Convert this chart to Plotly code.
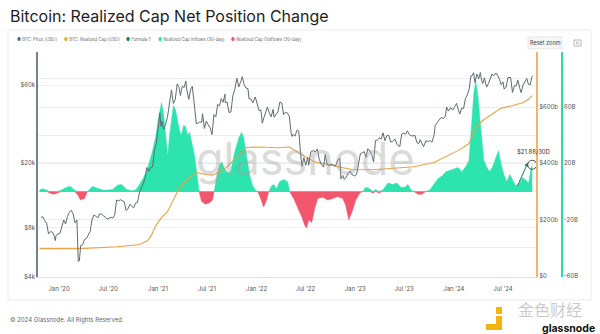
import plotly.graph_objects as go

# ---------------- DATA ----------------
price_dates = ["2019-10-26","2019-11-02","2019-11-09","2019-11-16","2019-11-23","2019-11-30","2019-12-07","2019-12-14","2019-12-18","2019-12-21","2019-12-28",
"2020-01-04","2020-01-11","2020-01-18","2020-01-25","2020-02-01","2020-02-08","2020-02-15","2020-02-22","2020-02-29","2020-03-07","2020-03-12","2020-03-16","2020-03-21","2020-03-28",
"2020-04-04","2020-04-11","2020-04-18","2020-04-25","2020-05-02","2020-05-09","2020-05-16","2020-05-23","2020-05-30","2020-06-06","2020-06-13","2020-06-20","2020-06-27",
"2020-07-04","2020-07-11","2020-07-18","2020-07-25","2020-08-01","2020-08-08","2020-08-15","2020-08-22","2020-08-29","2020-09-05","2020-09-12","2020-09-19","2020-09-26",
"2020-10-03","2020-10-10","2020-10-17","2020-10-24","2020-10-31","2020-11-07","2020-11-14","2020-11-21","2020-11-28","2020-12-05","2020-12-12","2020-12-19","2020-12-26",
"2021-01-02","2021-01-08","2021-01-12","2021-01-16","2021-01-22","2021-01-29","2021-02-05","2021-02-12","2021-02-20","2021-02-27","2021-03-06","2021-03-13","2021-03-20","2021-03-25",
"2021-04-01","2021-04-08","2021-04-14","2021-04-18","2021-04-25","2021-05-02","2021-05-08","2021-05-13","2021-05-19","2021-05-23","2021-05-29","2021-06-05","2021-06-12","2021-06-15",
"2021-06-22","2021-06-29","2021-07-06","2021-07-13","2021-07-20","2021-07-27","2021-08-03","2021-08-10","2021-08-17","2021-08-23","2021-08-30","2021-09-06","2021-09-07","2021-09-14",
"2021-09-21","2021-09-28","2021-10-05","2021-10-12","2021-10-20","2021-10-27","2021-11-03","2021-11-09","2021-11-16","2021-11-23","2021-11-30","2021-12-04","2021-12-11","2021-12-18",
"2021-12-27","2022-01-03","2022-01-10","2022-01-17","2022-01-22","2022-01-29","2022-02-05","2022-02-10","2022-02-17","2022-02-24","2022-03-03","2022-03-07","2022-03-14","2022-03-21",
"2022-03-28","2022-04-04","2022-04-11","2022-04-18","2022-04-25","2022-05-02","2022-05-09","2022-05-12","2022-05-16","2022-05-23","2022-05-31","2022-06-06","2022-06-13","2022-06-18",
"2022-06-25","2022-07-02","2022-07-09","2022-07-13","2022-07-20","2022-07-30","2022-08-06","2022-08-14","2022-08-20","2022-08-28","2022-09-06","2022-09-12","2022-09-19","2022-09-26",
"2022-10-03","2022-10-13","2022-10-20","2022-10-29","2022-11-05","2022-11-09","2022-11-16","2022-11-21","2022-11-28","2022-12-05","2022-12-13","2022-12-20","2022-12-30",
"2023-01-06","2023-01-13","2023-01-20","2023-01-27","2023-02-03","2023-02-10","2023-02-16","2023-02-23","2023-03-03","2023-03-10","2023-03-17","2023-03-24","2023-03-31",
"2023-04-07","2023-04-14","2023-04-21","2023-04-28","2023-05-05","2023-05-12","2023-05-19","2023-05-28","2023-06-05","2023-06-15","2023-06-22","2023-06-29","2023-07-06",
"2023-07-13","2023-07-20","2023-07-27","2023-08-03","2023-08-10","2023-08-17","2023-08-24","2023-08-29","2023-09-07","2023-09-11","2023-09-19","2023-09-28","2023-10-05",
"2023-10-12","2023-10-20","2023-10-24","2023-11-01","2023-11-09","2023-11-15","2023-11-23","2023-12-01","2023-12-05","2023-12-12","2023-12-20","2023-12-28",
"2024-01-04","2024-01-11","2024-01-16","2024-01-23","2024-01-30","2024-02-06","2024-02-13","2024-02-20","2024-02-27","2024-03-04","2024-03-08","2024-03-14","2024-03-19",
"2024-03-26","2024-04-02","2024-04-08","2024-04-13","2024-04-17","2024-04-23","2024-04-30","2024-05-01","2024-05-08","2024-05-15","2024-05-21","2024-05-28","2024-06-05",
"2024-06-12","2024-06-18","2024-06-24","2024-07-01","2024-07-05","2024-07-12","2024-07-19","2024-07-29","2024-08-05","2024-08-12","2024-08-19","2024-08-25","2024-09-01",
"2024-09-06","2024-09-13","2024-09-20","2024-09-27","2024-10-03","2024-10-10","2024-10-15","2024-10-19"]
price_usd = [9250,9300,8800,8500,7300,7550,7500,7100,6650,7150,7300,
7350,8050,8900,8400,9350,9900,10200,9700,8550,8900,4950,5000,6200,6250,
6750,6850,7250,7550,8900,9550,9400,9150,9700,9650,9450,9300,9000,
9100,9250,9150,9600,11800,11650,11850,11700,11500,10200,10400,11100,10750,
10550,11300,11350,13050,13800,14800,16000,18700,17700,18700,18800,23800,26500,
32000,40500,33500,36000,32000,34300,38000,47000,56000,46200,48900,61000,58000,51700,
59000,58000,63500,56000,49000,56600,58800,49800,37000,34700,35000,35600,35500,40000,
32500,36000,34200,32700,29800,39500,38200,45600,44700,49500,47000,52700,46800,47100,
40700,41000,51500,56000,66000,58400,62900,67500,60300,57500,57000,49300,49300,46700,
50700,46400,41800,42200,35000,38200,41500,44000,40500,38300,42500,38000,39700,41000,
47100,46600,39500,40800,40400,38500,30100,29000,29900,29100,31800,31300,22500,19000,
21500,19300,21600,19300,23200,23800,23200,24300,21200,19600,18800,22400,19500,19200,
19600,19400,19100,20800,21300,15900,16700,15800,16200,17100,17800,16900,16600,
16900,19900,22700,23000,23400,21600,24300,23900,22400,20200,27400,27500,28500,
27900,30500,27300,29300,29500,26800,26900,28000,25800,25100,30000,30400,29900,
31400,29800,29300,29200,29400,26600,26200,27700,26200,25100,27200,27000,27400,
26700,29700,33900,35400,36700,37900,37300,38700,44000,41500,43600,42100,
44200,46300,43100,39800,43300,43100,49700,52200,57000,68300,68300,71400,62000,
70000,65500,71600,63800,61200,66400,60600,58300,61200,66200,70100,68400,71100,
68200,65100,60300,62700,56700,57900,66700,66800,54000,59300,59400,64200,57300,
53900,60000,63200,65800,60700,60300,67000,68400]

rcap_dates = ["2019-10-21","2020-03-20","2020-08-04","2020-10-25","2020-11-23","2020-12-08","2020-12-23","2021-01-14","2021-02-06","2021-02-27",
"2021-03-22","2021-04-21","2021-05-24","2021-06-26","2021-07-22","2021-09-05","2021-10-27","2021-11-25","2022-01-16","2022-03-16","2022-05-03",
"2022-06-17","2022-08-04","2022-10-10","2022-12-19","2023-03-07","2023-05-20","2023-08-06","2023-10-19","2023-12-02","2024-01-16","2024-02-26",
"2024-03-22","2024-04-14","2024-05-24","2024-06-23","2024-08-06","2024-09-12","2024-10-04","2024-10-17"]
rcap_billion = [97,97,104,112,125,145,178,207,230,272,
315,345,367,360,358,380,430,456,458,455,458,
430,405,392,378,377,382,388,403,425,445,470,
525,550,575,595,605,615,628,640]

net_dates = ["2019-10-21","2019-11-01","2019-11-16","2019-11-27","2019-12-12","2019-12-26","2020-01-10","2020-01-29","2020-02-12","2020-02-27",
"2020-03-09","2020-03-20","2020-04-04","2020-04-15","2020-05-04","2020-05-22","2020-06-10","2020-06-28","2020-07-17","2020-08-04",
"2020-08-19","2020-09-07","2020-09-25","2020-10-10","2020-10-25","2020-11-09","2020-11-23","2020-12-08","2020-12-23","2021-01-03",
"2021-01-14","2021-01-22","2021-01-31","2021-02-06","2021-02-13","2021-02-22","2021-02-27","2021-03-07","2021-03-14","2021-03-22",
"2021-03-29","2021-04-06","2021-04-13","2021-04-21","2021-04-28","2021-05-05","2021-05-16","2021-05-24","2021-06-02","2021-06-11",
"2021-06-26","2021-07-11","2021-07-22","2021-07-28","2021-08-06","2021-08-17","2021-08-25","2021-09-05","2021-09-16","2021-09-27",
"2021-10-12","2021-10-27","2021-11-07","2021-11-14","2021-11-25","2021-12-06","2021-12-17","2021-12-28","2022-01-05","2022-01-16",
"2022-01-27","2022-02-07","2022-02-15","2022-02-26","2022-03-05","2022-03-16","2022-03-27","2022-04-11","2022-04-26","2022-05-03",
"2022-05-18","2022-06-02","2022-06-17","2022-06-28","2022-07-05","2022-07-13","2022-07-24","2022-08-04","2022-08-15","2022-09-03",
"2022-09-21","2022-10-10","2022-10-28","2022-11-16","2022-11-27","2022-12-08","2022-12-19","2023-01-03","2023-01-18","2023-01-29",
"2023-02-09","2023-02-24","2023-03-07","2023-03-18","2023-03-29","2023-04-13","2023-05-02","2023-05-20","2023-06-04","2023-06-19",
"2023-07-04","2023-07-15","2023-07-26","2023-08-06","2023-08-21","2023-09-04","2023-09-19","2023-10-04","2023-10-19","2023-11-03",
"2023-11-18","2023-12-02","2023-12-17","2024-01-01","2024-01-16","2024-01-31","2024-02-15","2024-02-26","2024-03-06","2024-03-15",
"2024-03-22","2024-03-30","2024-04-07","2024-04-14","2024-04-21","2024-05-02","2024-05-13","2024-05-24","2024-06-04","2024-06-14",
"2024-06-23","2024-07-04","2024-07-15","2024-07-26","2024-08-06","2024-08-17","2024-08-28","2024-09-12","2024-09-23","2024-10-04",
"2024-10-12","2024-10-17"]
net_billion = [1,2,1,-1,-2,-1,1,3,3.5,1,
-2,-6,-5,0,3.5,2.5,1,1,1.5,4.5,
5,1.5,0.5,1,5,10,16,26,38,52,
63,55,35,25,40,55,61,58,50,43,
40,47,46,40,42,36,26,14,0,-7,
-9,-8,-6,0,10,19,21,16,13,14,
28,38,42,38,25,12,4,1,0,-5,
-11,-6,0,4,5,2,7,8.5,7,0,
-5,-11,-18,-24,-26,-20,-22,-12,-5,-4,
-6,-5,-3.5,-5,-10,-20,-15,-6,-1,0,
3,2,-1,1.5,-1,1,6,5,6,3,
3,5,1,0,-2,-2,0,1,5,9,
11,14,15,16,17,14,18,22,45,70,
78,68,50,35,22,17,14,18,24,29,
20,12,7,12,8,4,5,10,8,6,
16,19]

x_tick_dates = ["2020-01-01","2020-07-01","2021-01-01","2021-07-01","2022-01-01","2022-07-01","2023-01-01","2023-07-01","2024-01-01","2024-07-01"]
x_tick_text = ["Jan '20","Jul '20","Jan '21","Jul '21","Jan '22","Jul '22","Jan '23","Jul '23","Jan '24","Jul '24"]
price_ticks = [4000, 8000, 20000, 60000]
price_tick_text = ["$4k", "$8k", "$20k", "$60k"]
rcap_ticks = [0, 200, 400, 600]
rcap_tick_text = ["$0", "$200b", "$400b", "$600b"]
net_ticks = [-60, -40, -20, 0, 20, 40, 60, 80]
net_tick_text = ["-60B", "", "-20B", "", "20B", "", "60B", ""]
last_label = "$21.88/30D"

# ---------------- FIGURE ----------------
W, H = 600, 334
ML, MR, MT, MB = 38, 20, 52, 57
PW, PH = W - ML - MR, H - MT - MB

def px(x):
    return (x - ML) / PW

def py(y):
    return (H - MB - y) / PH

FONT = "Inter, Roboto, sans-serif"
C_PRICE = "#5d6c73"
C_RCAP = "#eba346"
C_IN = "#2de3ae"
C_OUT = "#f2566c"
C_F1 = "#147a5c"

pos = [v if v > 0 else 0 for v in net_billion]
neg = [v if v < 0 else 0 for v in net_billion]

fig = go.Figure()
fig.add_trace(go.Scatter(x=net_dates, y=pos, yaxis="y", mode="lines", line=dict(width=0.5, color=C_IN),
                         fill="tozeroy", fillcolor=C_IN, name="Realized Cap Inflows (30-day)"))
fig.add_trace(go.Scatter(x=net_dates, y=neg, yaxis="y", mode="lines", line=dict(width=0.5, color=C_OUT),
                         fill="tozeroy", fillcolor=C_OUT, name="Realized Cap Outflows (30-day)"))
fig.add_trace(go.Scatter(x=rcap_dates, y=rcap_billion, yaxis="y2", mode="lines",
                         line=dict(width=1.1, color=C_RCAP), name="BTC: Realized Cap [USD]"))
fig.add_trace(go.Scatter(x=price_dates, y=price_usd, yaxis="y3", mode="lines",
                         line=dict(width=1, color=C_PRICE), name="BTC: Price [USD]"))

axfont = dict(family=FONT, size=6, color="#555")
xend = px(536)

fig.update_layout(
    width=W, height=H, margin=dict(l=ML, r=MR, t=MT, b=MB),
    paper_bgcolor="white", plot_bgcolor="rgba(0,0,0,0)",
    showlegend=False, font=dict(family=FONT),
    xaxis=dict(domain=[0, xend], range=["2019-10-15", "2024-10-31"], type="date",
               tickvals=x_tick_dates, ticktext=x_tick_text, tickfont=axfont,
               showgrid=False, showline=True, linecolor="#e3e3e3", linewidth=1,
               ticks="", ticklabelstandoff=6, zeroline=False, anchor="y"),
    yaxis=dict(side="right", anchor="free", position=px(562), range=[-60.7, 99.05],
               tickvals=net_ticks, ticktext=net_tick_text, tickfont=axfont,
               showgrid=True, gridcolor="#ededed", gridwidth=1, zeroline=False,
               showline=True, linecolor="#33d6aa", linewidth=1.5, ticks=""),
    yaxis2=dict(overlaying="y", side="right", anchor="x", range=[-3.55, 795],
                tickvals=rcap_ticks, ticktext=rcap_tick_text, tickfont=axfont,
                showgrid=False, zeroline=False, showline=True, linecolor="#f1b46c",
                linewidth=2, ticks=""),
    yaxis3=dict(overlaying="y", side="left", anchor="x", type="log",
                range=[3.599, 4.981], tickvals=price_ticks, ticktext=price_tick_text,
                tickfont=axfont, showgrid=True, gridcolor="#f1f1f1", zeroline=False,
                showline=True, linecolor="#71828a", linewidth=1.5, ticks=""),
)

shapes = []
shapes.append(dict(type="rect", xref="paper", yref="paper", x0=px(8), x1=px(591), y0=py(30), y1=py(300),
                   line=dict(color="#ebebeb", width=1), fillcolor="rgba(0,0,0,0)", layer="below"))
shapes.append(dict(type="rect", xref="paper", yref="paper", x0=px(528), x1=px(562), y0=py(37), y1=py(49),
                   line=dict(color="#dcdcdc", width=0.6), fillcolor="#f7f7f7"))
shapes.append(dict(type="rect", xref="paper", yref="paper", x0=px(574), x1=px(581), y0=py(40), y1=py(46),
                   line=dict(color="#999", width=0.7), fillcolor="rgba(0,0,0,0)"))
shapes.append(dict(type="circle", xref="paper", yref="paper", x0=px(576.3), x1=px(578.7), y0=py(41.8), y1=py(44.2),
                   line=dict(color="#999", width=0.6)))
shapes.append(dict(type="circle", xref="x", yref="y", xsizemode="pixel", ysizemode="pixel",
                   xanchor=net_dates[-1], yanchor=net_billion[-1], x0=-4.5, x1=4.5, y0=-4.5, y1=4.5,
                   line=dict(color="#222", width=0.8)))
for (a, b, c, d) in [(496, 307, 502, 314), (496, 316, 502, 330), (486, 324, 502, 330)]:
    shapes.append(dict(type="rect", xref="paper", yref="paper", x0=px(a), x1=px(c), y0=py(b), y1=py(d),
                       line=dict(width=0), fillcolor="#f3b412"))
fig.update_layout(shapes=shapes)

ann = []
ann.append(dict(xref="paper", yref="paper", x=px(8), y=py(16), xanchor="left", yanchor="middle",
                text="Bitcoin: Realized Cap Net Position Change", showarrow=False,
                font=dict(family=FONT, size=16, color="#1e1e1e")))
legend_items = [(17, C_PRICE, "BTC: Price [USD]"), (64, "#f0a53a", "BTC: Realized Cap [USD]"),
                (126, C_F1, "Formula 1"), (158, C_IN, "Realized Cap Inflows (30-day)"),
                (231, C_OUT, "Realized Cap Outflows (30-day)")]
for (lx, col, name) in legend_items:
    ann.append(dict(xref="paper", yref="paper", x=px(lx - 2), y=py(39.5), xanchor="left", yanchor="middle",
                    text=f"<span style='color:{col}'>●</span> {name}", showarrow=False,
                    font=dict(family=FONT, size=4.3, color="#666")))
ann.append(dict(xref="paper", yref="paper", x=px(545), y=py(43), xanchor="center", yanchor="middle",
                text="Reset zoom", showarrow=False, font=dict(family=FONT, size=5.5, color="#444")))
ann.append(dict(xref="paper", yref="paper", x=px(305), y=py(158), xanchor="center", yanchor="middle",
                text="glassnode", showarrow=False,
                font=dict(family="Inter, sans-serif", size=45, color="rgba(160,160,160,0.4)")))
ann.append(dict(xref="x", yref="y", x="2024-10-01", y=20.6, axref="x", ayref="y", ax="2024-08-21", ay=2.8,
                text="", showarrow=True, arrowhead=2, arrowsize=0.8, arrowwidth=1, arrowcolor=C_F1))
ann.append(dict(xref="x", yref="y", x="2024-10-20", y=28.5, xanchor="center", yanchor="middle",
                text=last_label, showarrow=False, font=dict(family=FONT, size=6, color="#333")))
ann.append(dict(xref="paper", yref="paper", x=px(8), y=py(320), xanchor="left", yanchor="middle",
                text="© 2024 Glassnode. All Rights Reserved.", showarrow=False,
                font=dict(family=FONT, size=6, color="#666")))
ann.append(dict(xref="paper", yref="paper", x=px(550), y=py(309), xanchor="center", yanchor="middle",
                text="金色财经", showarrow=False, borderpad=0,
                font=dict(family="Noto Sans CJK SC", size=16, color="rgba(185,185,185,0.75)")))
ann.append(dict(xref="paper", yref="paper", x=px(596), y=py(328), xanchor="right", yanchor="middle",
                text="<b>glassnode</b>", showarrow=False, borderpad=0,
                font=dict(family=FONT, size=10.5, color="#111")))
fig.update_layout(annotations=ann)

fig.write_html("out.html", config={"displayModeBar": False})
